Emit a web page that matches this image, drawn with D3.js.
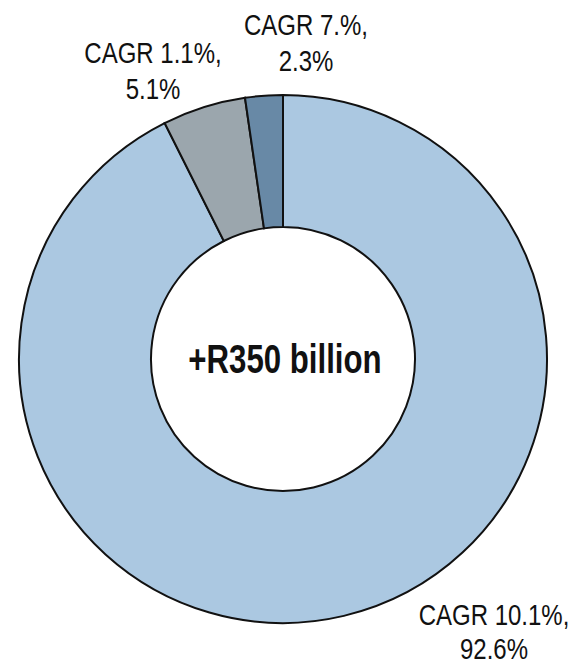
<!DOCTYPE html>
<html>
<head>
<meta charset="utf-8">
<script src="https://cdn.jsdelivr.net/npm/d3@7"></script>
<style>
  body { margin: 0; background: #fff; }
  svg text { font-family: "Liberation Sans", Arial, sans-serif; fill: #111; }
</style>
</head>
<body>
<svg id="chart" width="577" height="667"></svg>
<script>
// shares of the increase, clockwise from 12 o'clock
var shares = [92.6, 5.1, 2.3];
var cagrLabels = ["CAGR 10.1%,", "CAGR 1.1%,", "CAGR 7.%,"];
var shareLabels = ["92.6%", "5.1%", "2.3%"];
var centerLabel = "+R350 billion";

var colors = ["#abc8e1", "#9ba6ad", "#6889a6"];

var svg = d3.select("#chart");
var cx = 283, cy = 359,
    outerR = 264, innerR = 132;

var g = svg.append("g").attr("transform", "translate(" + cx + "," + cy + ")");

var pie = d3.pie().sort(null).value(function(d) { return d; });
var arc = d3.arc().innerRadius(innerR).outerRadius(outerR);

var arcs = pie(shares);

g.selectAll("path.slice")
  .data(arcs)
  .enter().append("path")
  .attr("class", "slice")
  .attr("d", arc)
  .attr("fill", function(d, i) { return colors[i]; })
  .attr("stroke", "#111")
  .attr("stroke-width", 2);

// no condensed font installed, so squeeze Liberation Sans horizontally
g.append("text")
  .attr("text-anchor", "middle")
  .attr("transform", "translate(2,14) scale(0.78,1)")
  .attr("font-size", "40px")
  .attr("font-weight", "bold")
  .text(centerLabel);

// label placement (offsets from centre, px)
var labelPos = [[211, 266], [-130, -296], [23, -324]];

var lab = g.selectAll("text.lab")
  .data(arcs)
  .enter().append("text")
  .attr("class", "lab")
  .attr("text-anchor", "middle")
  .attr("font-size", "30px")
  .attr("transform", function(d, i) { return "translate(" + labelPos[i][0] + "," + labelPos[i][1] + ") scale(0.8,1)"; });

lab.append("tspan").attr("x", 0).attr("y", 0).text(function(d, i) { return cagrLabels[i]; });
lab.append("tspan").attr("x", 0).attr("y", function(d, i) { return i === 0 ? 34 : 36; }).text(function(d, i) { return shareLabels[i]; });
</script>
</body>
</html>
